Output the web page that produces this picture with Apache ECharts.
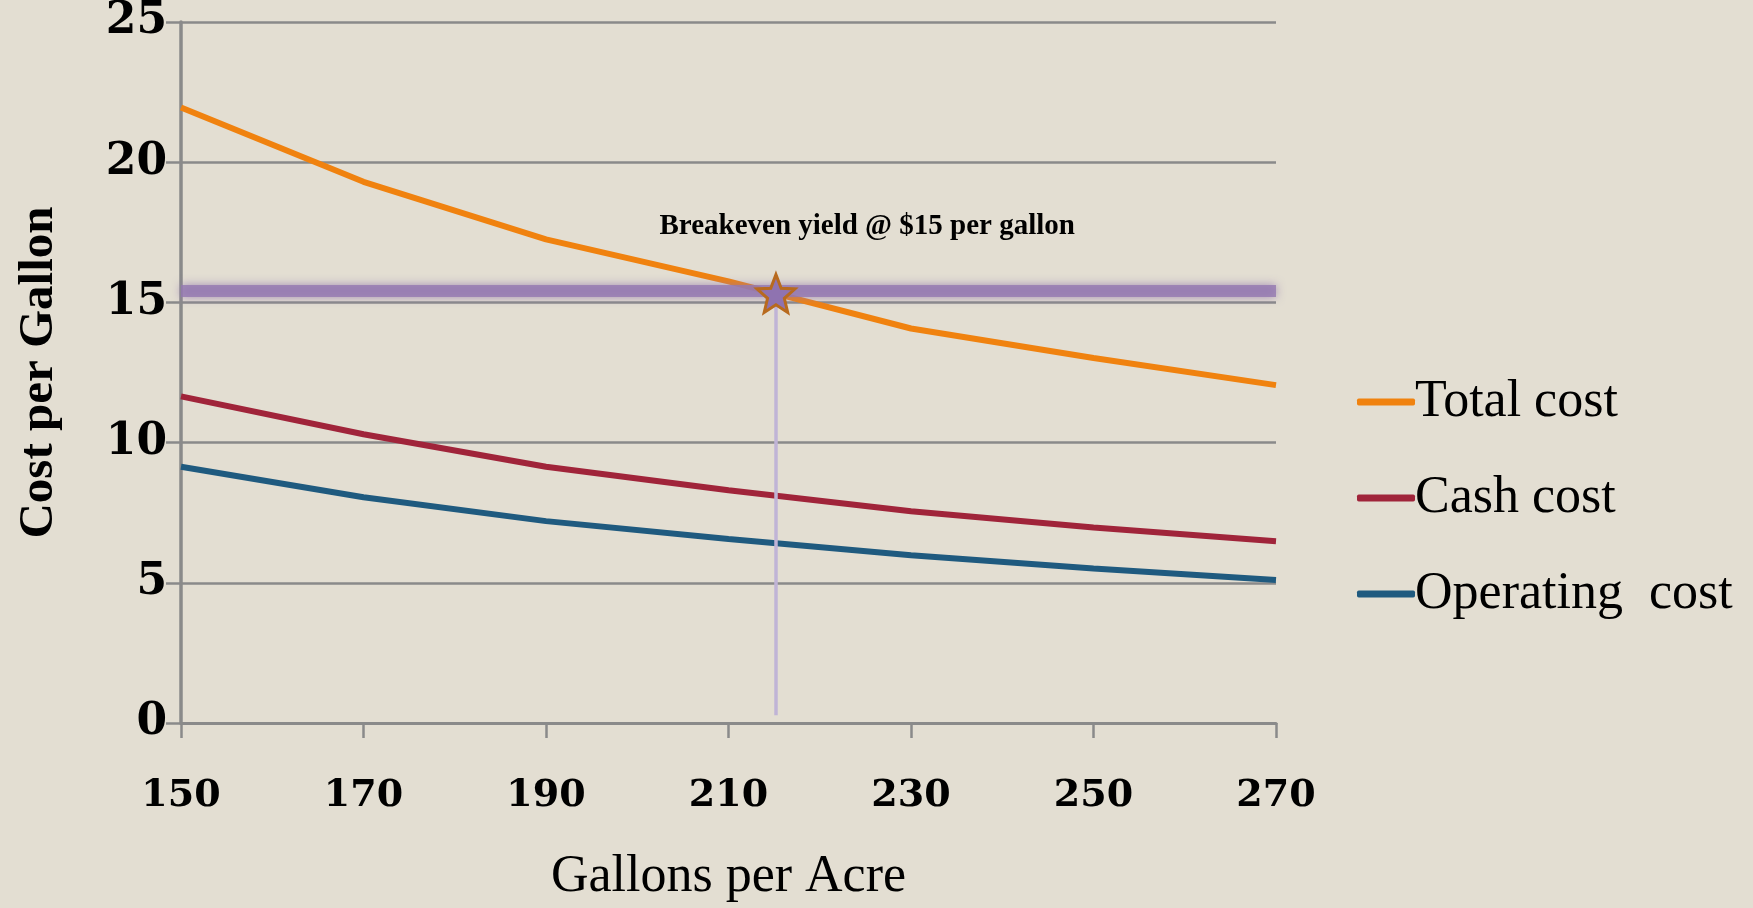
<!DOCTYPE html>
<html>
<head>
<meta charset="utf-8">
<script src="https://cdn.jsdelivr.net/npm/echarts@6/dist/echarts.min.js"></script>
<style>
html,body{margin:0;padding:0;background:#e3ded2;}
#c{width:1753px;height:908px;}
</style>
</head>
<body>
<div id="c"></div>
<script>
// ---- data ----
var gallons = [150, 170, 190, 210, 230, 250, 270];
var totalCost = [21.95, 19.3, 17.25, 15.75, 14.07, 13.02, 12.05];
var cashCost = [11.65, 10.3, 9.14, 8.3, 7.55, 6.97, 6.48];
var operatingCost = [9.14, 8.05, 7.2, 6.56, 5.98, 5.51, 5.1];
var seriesNames = ['Total cost', 'Cash cost', 'Operating  cost'];
var breakevenYield = 215.2;
var breakevenLevel = 15.42;
var annotationText = 'Breakeven yield @ $15 per gallon';
var annotationAt = [225.2, 17.7];
var xTicks = {min: 150, max: 270, interval: 20};
var yTicks = {min: 0, max: 25, interval: 5};

function pairs(xs, ys) { return xs.map(function (x, i) { return [x, ys[i]]; }); }

var colors = ['#f0820f', '#a0243a', '#1f5a7f'];
var star = 'path://M0,-10 L2.6,-3.4 L9.51,-3.09 L4.2,1.4 L5.88,8.09 L0,4.4 L-5.88,8.09 L-4.2,1.4 L-9.51,-3.09 L-2.6,-3.4 Z';

var chart = echarts.init(document.getElementById('c'));
chart.setOption({
  backgroundColor: '#e3ded2',
  animation: false,
  grid: {left: 181, right: 477, top: 22, bottom: 170, containLabel: false},
  legend: {
    data: seriesNames,
    orient: 'vertical',
    left: 1352, top: 371,
    icon: 'roundRect',
    itemWidth: 58, itemHeight: 7, itemGap: 44,
    textStyle: {fontFamily: 'Liberation Serif', fontSize: 52, color: '#000', lineHeight: 50, padding: [0,0,0,-5]}
  },
  xAxis: {
    type: 'value', min: xTicks.min, max: xTicks.max, interval: xTicks.interval,
    name: 'Gallons per Acre', nameLocation: 'middle', nameGap: 128,
    nameTextStyle: {fontFamily: 'Liberation Serif', fontSize: 52, color: '#000'},
    axisLine: {show: true, lineStyle: {color: '#8a8a8a', width: 3}},
    axisTick: {show: true, length: 15, lineStyle: {color: '#8a8a8a', width: 2.5}},
    axisLabel: {margin: 54, fontFamily: 'DejaVu Serif', fontWeight: 'bold', fontSize: 38, color: '#000'},
    splitLine: {show: false}
  },
  yAxis: {
    type: 'value', min: yTicks.min, max: yTicks.max, interval: yTicks.interval,
    name: 'Cost per Gallon', nameLocation: 'middle', nameGap: 117,
    nameTextStyle: {fontFamily: 'Liberation Serif', fontWeight: 'bold', fontSize: 49, color: '#000'},
    axisLine: {show: true, lineStyle: {color: '#8a8a8a', width: 3.5}},
    axisTick: {show: true, length: 15, lineStyle: {color: '#8a8a8a', width: 2.5}},
    axisLabel: {margin: 14, fontFamily: 'DejaVu Serif', fontWeight: 'bold', fontSize: 44, color: '#000'},
    splitLine: {show: true, lineStyle: {color: '#8a8a8a', width: 2.5}}
  },
  series: [
    {name: seriesNames[0], type: 'line', data: pairs(gallons, totalCost), symbol: 'none', color: colors[0], lineStyle: {width: 6}, z: 3},
    {name: seriesNames[1], type: 'line', data: pairs(gallons, cashCost), symbol: 'none', color: colors[1], lineStyle: {width: 6}, z: 3},
    {name: seriesNames[2], type: 'line', data: pairs(gallons, operatingCost), symbol: 'none', color: colors[2], lineStyle: {width: 6}, z: 3},
    {
      name: 'breakeven', type: 'line', data: [], z: 5, silent: true,
      markLine: {
        silent: true, symbol: ['none', 'none'], animation: false,
        label: {show: false},
        data: [
          [{coord: [xTicks.min, breakevenLevel], lineStyle: {color: 'rgba(148,120,176,0.8)', width: 12, type: 'solid', shadowBlur: 10, shadowColor: 'rgba(148,120,176,1)'}},
           {coord: [xTicks.max, breakevenLevel]}],
          [{coord: [breakevenYield, 0.28], lineStyle: {color: '#c0b4d6', width: 3.5, type: 'solid'}},
           {coord: [breakevenYield, breakevenLevel]}]
        ]
      },
      markPoint: {
        silent: true, animation: false,
        data: [
          {coord: [breakevenYield, breakevenLevel - 0.1], symbol: star, symbolSize: [38, 38],
           itemStyle: {color: '#8f73b0', borderColor: '#b86a1e', borderWidth: 3}, label: {show: false}},
          {coord: annotationAt, symbol: 'rect', symbolSize: 1, itemStyle: {color: 'rgba(0,0,0,0)'},
           label: {show: true, position: 'inside', formatter: annotationText, fontFamily: 'Liberation Serif', fontWeight: 'bold', fontSize: 29, color: '#000'}}
        ]
      }
    }
  ]
});
</script>
</body>
</html>
